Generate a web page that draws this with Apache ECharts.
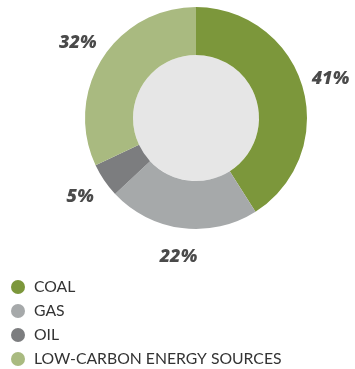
<!DOCTYPE html>
<html>
<head>
<meta charset="utf-8">
<script src="https://cdn.jsdelivr.net/npm/echarts@6/dist/echarts.min.js"></script>
<style>
  html, body { margin: 0; padding: 0; background: #fff; }
  #chart { width: 355px; height: 369px; }
</style>
</head>
<body>
<div id="chart"></div>
<script>
// Energy mix data
const categories = ['COAL', 'GAS', 'OIL', 'LOW-CARBON ENERGY SOURCES'];
const shares = [41, 22, 5, 32];
const colors = ['#7c973b', '#a6a9aa', '#7c7d7f', '#a9ba80'];

var chartDom = document.getElementById('chart');
var myChart = echarts.init(chartDom);
var option;

const center = [196, 118];

option = {
  animation: false,
  color: colors,
  legend: {
    data: categories,
    orient: 'vertical',
    left: 11,
    top: 279,
    height: 90,
    padding: 0,
    icon: 'circle',
    itemWidth: 14,
    itemHeight: 14,
    itemGap: 8,
    selectedMode: false,
    textStyle: {
      fontFamily: 'Lato',
      fontSize: 15.75,
      color: '#333333',
      padding: [0, 0, 0, 4]
    }
  },
  series: [
    {
      // inner light disc
      type: 'pie',
      silent: true,
      center: center,
      radius: [0, 63],
      label: { show: false },
      labelLine: { show: false },
      data: [{ value: 1, name: '__inner', itemStyle: { color: '#e6e6e6' } }]
    },
    {
      name: 'Energy',
      type: 'pie',
      center: center,
      radius: [63, 111],
      startAngle: 90,
      clockwise: true,
      silent: true,
      label: { show: false },
      labelLine: { show: false },
      data: categories.map((c, i) => ({ name: c, value: shares[i], itemStyle: { color: colors[i] } }))
    },
    {
      // transparent ring carrying the percentage labels
      type: 'pie',
      center: center,
      radius: [124, 150],
      startAngle: 90,
      clockwise: true,
      silent: true,
      itemStyle: { color: 'rgba(0,0,0,0)' },
      label: {
        show: true,
        position: 'inside',
        formatter: '{c}%',
        fontFamily: 'Open Sans',
        fontSize: 18,
        fontWeight: 800,
        fontStyle: 'italic',
        color: '#4a4a4a'
      },
      labelLine: { show: false },
      data: categories.map((c, i) => ({ name: c, value: shares[i] }))
    }
  ]
};

option && myChart.setOption(option);
</script>
</body>
</html>
